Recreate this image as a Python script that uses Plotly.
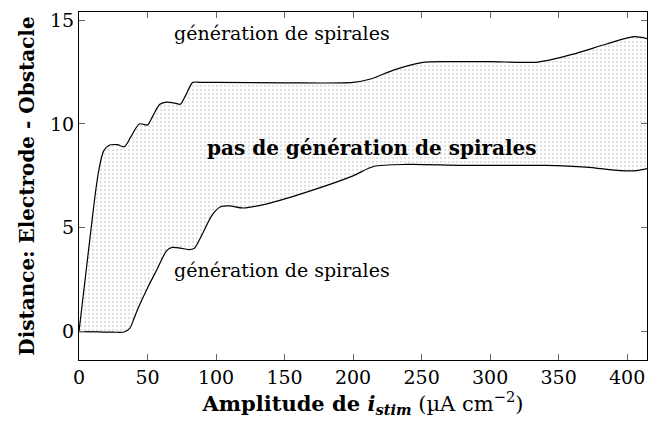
import plotly.graph_objects as go

# Upper boundary (above: spirals generated)
upper_x = [0, 8, 14, 18, 22, 28, 33, 38, 44, 50, 54, 59, 64, 70, 74, 78, 83, 88, 100, 150, 200, 212, 230, 250, 270, 300, 335, 360, 385, 405, 415]
upper_y = [0, 4.5, 7.6, 8.7, 8.97, 9.0, 8.9, 9.4, 10.0, 9.95, 10.4, 10.95, 11.05, 11.0, 10.95, 11.4, 12.0, 12.0, 12.0, 11.98, 12.0, 12.15, 12.6, 12.95, 13.0, 13.0, 12.98, 13.35, 13.85, 14.2, 14.1]

# Lower boundary (below: spirals generated)
lower_x = [0, 15, 25, 33, 37, 40, 43, 50, 57, 64, 68, 74, 80, 84, 90, 97, 103, 110, 120, 140, 170, 200, 215, 240, 280, 340, 370, 395, 407, 415]
lower_y = [0, -0.02, -0.03, -0.02, 0.15, 0.6, 1.1, 2.1, 3.0, 3.9, 4.05, 4.02, 3.95, 4.0, 4.7, 5.6, 6.0, 6.05, 5.95, 6.2, 6.8, 7.5, 7.95, 8.05, 8.0, 8.0, 7.92, 7.75, 7.75, 7.85]

annot_text = ["génération de spirales", "<b>pas de génération de spirales</b>", "génération de spirales"]
annot_x = [148, 214, 148]
annot_y = [14.4, 8.85, 2.97]
annot_size = [19, 20, 19]

x_ticks = [0, 50, 100, 150, 200, 250, 300, 350, 400]
y_ticks = [0, 5, 10, 15]

FONT = "DejaVu Serif, serif"

fig = go.Figure()
fig.add_trace(go.Scatter(x=lower_x, y=lower_y, mode="lines",
                         line=dict(color="black", width=1.2, shape="spline", smoothing=0.8),
                         showlegend=False, hoverinfo="skip"))
fig.add_trace(go.Scatter(x=upper_x, y=upper_y, mode="lines",
                         line=dict(color="black", width=1.2, shape="spline", smoothing=0.8),
                         fill="tonexty", fillcolor="rgba(0,0,0,0)",
                         fillpattern=dict(shape=".", fgcolor="#bdbdbd", bgcolor="white", size=4, solidity=0.25),
                         showlegend=False, hoverinfo="skip"))

for t, x, y, s in zip(annot_text, annot_x, annot_y, annot_size):
    fig.add_annotation(x=x, y=y, text=t, showarrow=False,
                       font=dict(family=FONT, size=s, color="black"))

axis_common = dict(showline=True, linecolor="black", linewidth=1, mirror="ticks",
                   ticks="inside", ticklen=6, tickcolor="#666", tickwidth=1,
                   showgrid=False, zeroline=False, automargin=False,
                   tickfont=dict(family=FONT, size=19, color="black"))

fig.update_layout(
    width=649, height=426,
    margin=dict(l=79, r=2, t=12, b=66),
    paper_bgcolor="white", plot_bgcolor="white",
    xaxis=dict(range=[0, 414.5], tickvals=x_ticks, ticklabeloverflow="allow",
               title=dict(text="<b>Amplitude de <i>i<sub>stim</sub></i></b> (µA cm<sup>−2</sup>)",
                          font=dict(family=FONT, size=21, color="black"), standoff=5),
               **axis_common),
    yaxis=dict(range=[-1.37, 15.39], tickvals=y_ticks,
               title=dict(text="<b>Distance: Electrode - Obstacle</b>",
                          font=dict(family=FONT, size=20, color="black"), standoff=10),
               **axis_common),
)

fig.write_html("out.html", config={"displayModeBar": False},
               post_script="document.body.style.margin='0';document.body.style.overflow='hidden';")
